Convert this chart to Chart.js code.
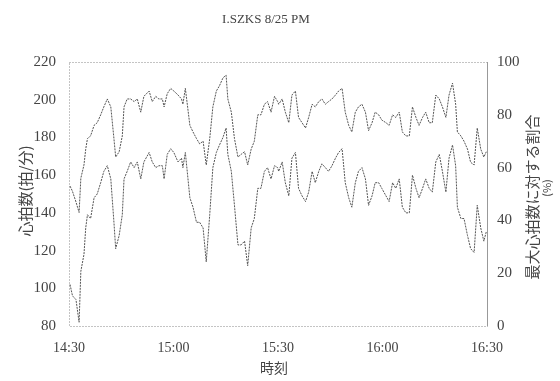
<!DOCTYPE html>
<html>
<head>
<meta charset="utf-8">
<script src="https://cdn.jsdelivr.net/npm/chart.js@4.4.0/dist/chart.umd.min.js"></script>
<style>
  html, body { margin: 0; padding: 0; background: #fff; }
  canvas { display: block; }
</style>
</head>
<body>
<canvas id="hrChart" width="560" height="381"></canvas>
<script>
// minutes after 14:30
var minutes = [0.3, 1, 2, 2.9, 3.4, 4.3, 4.8, 5.3, 6.2, 7.2, 8.1, 9.1, 10, 11, 12, 12.9, 13.4, 14.4, 15.3, 15.8,
  16.7, 17.7, 18.7, 19.6, 20.6, 21.5, 23, 23.9, 24.9, 25.8, 26.8, 27.3, 28.2, 29.2, 30.1,
  31.3, 32.3, 32.7, 33.4, 34.7, 35.6, 36.6, 37.5, 38.5, 39.4, 40.4, 41.3, 42.3, 43.2, 44.2, 45.1, 45.6,
  46.6, 47.5, 48.5, 49.4, 50.4, 51.3, 52.3, 53.2, 54.2, 55.1, 56.1, 57, 58, 59, 59.9,
  60.2, 61.2, 62.1, 63.1, 64, 65, 65.9, 66.9, 67.9, 68.8, 69.8, 70.7, 71.7, 72.6, 73.6, 74.5, 75.5,
  76.5, 77.4, 78.4, 79.3, 80.3, 81.2, 82.2, 83.1, 84.1, 85.1, 86, 87, 87.9,
  88.9, 89.8, 91, 91.9, 92.9, 93.8, 94.8, 95.7, 96.7, 97.7, 98.6, 99.6, 100.5, 101.5, 102.4, 103.4,
  104.3, 105.3, 106.3, 107.2, 108.2, 109.1, 110.1, 111, 111.5, 112.5, 113.4, 114.4, 115.3, 116.3,
  117.2, 118.2, 119.1, 119.8];

// heart rate (beats / min), left axis
var heartRate = [102, 96, 94, 82, 109, 118, 132, 139, 137, 148, 150, 156, 162, 165, 158, 135, 121, 128, 139, 158,
  162, 167, 164, 167, 158, 167, 172, 167, 164, 165, 165, 158, 171, 174, 172,
  167, 169, 164, 172, 148, 143, 135, 135, 132, 114, 139, 164, 172, 176, 180, 185, 171,
  162, 144, 123, 123, 125, 112, 132, 137, 153, 153, 162, 164, 158, 165, 164,
  162, 167, 156, 149, 169, 172, 153, 149, 146, 151, 162, 156, 162, 166, 164, 162, 165,
  169, 172, 174, 156, 148, 143, 156, 162, 164, 158, 144, 149, 156,
  156, 153, 149, 146, 156, 153, 158, 143, 140, 140, 160, 153, 148, 153, 158, 153,
  151, 167, 171, 162, 151, 169, 176, 165, 143, 137, 137, 128, 121, 119,
  144, 132, 125, 130];

// share of max heart rate (%), right axis
var pctOfMax = [53, 51, 47, 43, 56, 61, 67, 71, 72, 76, 77, 80, 83, 86, 83, 71, 64, 66, 72, 83,
  86, 86, 85, 86, 81, 87, 89, 85, 87, 86, 86, 83, 88, 90, 89,
  87.5, 86, 84, 90, 76, 73.5, 71, 69, 70, 61, 71, 83, 89, 91, 94, 95, 86,
  81, 71, 64, 65, 66, 61, 67, 70, 80, 80, 84, 85, 81, 87, 85,
  84, 86, 81, 77, 87.5, 89, 79, 77, 75, 79, 84, 83, 85, 86, 84, 85, 86,
  87.5, 89, 90, 81, 76, 73.5, 81, 83, 84, 81, 74, 77, 81,
  80, 78, 77, 76, 80, 79, 81, 73.5, 72, 72, 83, 79, 76, 79, 81, 77,
  77, 87.5, 86, 83, 79, 87.5, 92, 84, 73.5, 72, 70, 67, 62, 61,
  75, 67, 64, 66];

var timeLabels = ['14:30', '15:00', '15:30', '16:00', '16:30'];

var hrPoints = minutes.map(function (m, i) { return { x: m, y: heartRate[i] }; });
var pctPoints = minutes.map(function (m, i) { return { x: m, y: pctOfMax[i] }; });

var serif = '"Liberation Serif", "DejaVu Serif", serif';
var cjk = '"Noto Sans CJK JP", sans-serif';

// frame, title and axis captions
var decorations = {
  id: 'decorations',
  beforeDraw: function (chart) {
    var ctx = chart.ctx;
    ctx.save();
    ctx.fillStyle = '#fff';
    ctx.fillRect(0, 0, chart.width, chart.height);
    ctx.restore();
  },
  beforeDatasetsDraw: function (chart) {
    var ctx = chart.ctx, a = chart.chartArea;
    ctx.save();
    ctx.strokeStyle = '#888';
    ctx.lineWidth = 1;
    ctx.setLineDash([1, 2]);
    ctx.strokeRect(Math.round(a.left) + 0.5, Math.round(a.top) + 0.5, Math.round(a.right - a.left), Math.round(a.bottom - a.top));
    ctx.setLineDash([]);
    ctx.beginPath();
    ctx.moveTo(Math.round(a.right) + 0.5, a.top);
    ctx.lineTo(Math.round(a.right) + 0.5, a.bottom);
    ctx.strokeStyle = '#999';
    ctx.stroke();
    ctx.restore();
  },
  afterDraw: function (chart) {
    var ctx = chart.ctx;
    ctx.save();
    ctx.fillStyle = '#444';
    ctx.textAlign = 'center';
    ctx.textBaseline = 'middle';
    ctx.font = '13px ' + serif;
    ctx.fillText('I.SZKS 8/25 PM', 266, 20);

    ctx.font = '14px ' + cjk;
    ctx.fillText('時刻', 274, 368);

    ctx.save();
    ctx.translate(25, 191);
    ctx.rotate(-Math.PI / 2);
    ctx.font = '15px ' + cjk;
    ctx.fillText('心拍数(拍/分)', 0, 0);
    ctx.restore();

    ctx.save();
    ctx.translate(532, 197);
    ctx.rotate(-Math.PI / 2);
    ctx.font = '15px ' + cjk;
    ctx.fillText('最大心拍数に対する割合', 0, 0);
    ctx.font = '11px ' + cjk;
    ctx.fillText('(%)', 9, 15);
    ctx.restore();
    ctx.restore();
  }
};

var ctx = document.getElementById('hrChart').getContext('2d');

var hrChart = new Chart(ctx, {
  type: 'line',
  data: {
    datasets: [{
      label: '心拍数',
      data: hrPoints,
      yAxisID: 'y',
      borderColor: '#555',
      borderWidth: 1,
      borderDash: [2, 1],
      pointRadius: 0,
      tension: 0,
      fill: false
    }, {
      label: '最大心拍数に対する割合',
      data: pctPoints,
      yAxisID: 'y1',
      borderColor: '#555',
      borderWidth: 1,
      borderDash: [2, 1],
      pointRadius: 0,
      tension: 0,
      fill: false
    }]
  },
  options: {
    responsive: false,
    animation: false,
    layout: { padding: { top: 62, left: 0, right: 0, bottom: 0 } },
    plugins: {
      legend: { display: false },
      title: { display: false },
      tooltip: { enabled: false }
    },
    scales: {
      x: {
        type: 'linear',
        min: 0,
        max: 120,
        grid: { display: false, drawTicks: false },
        border: { display: false },
        ticks: {
          stepSize: 30,
          padding: 14,
          color: '#444',
          font: { family: serif, size: 14 },
          callback: function (v) { return timeLabels[v / 30]; }
        },
        afterFit: function (s) { s.height = 55; }
      },
      y: {
        position: 'left',
        min: 80,
        max: 220,
        grid: { display: false, drawTicks: false },
        border: { display: false },
        ticks: { stepSize: 20, padding: 13, color: '#444', font: { family: serif, size: 15 } },
        afterFit: function (s) { s.width = 69; }
      },
      y1: {
        position: 'right',
        min: 0,
        max: 100,
        grid: { display: false, drawTicks: false },
        border: { display: false },
        ticks: { stepSize: 20, padding: 10, color: '#444', font: { family: serif, size: 15 } },
        afterFit: function (s) { s.width = 73; }
      }
    }
  },
  plugins: [decorations]
});
</script>
</body>
</html>
